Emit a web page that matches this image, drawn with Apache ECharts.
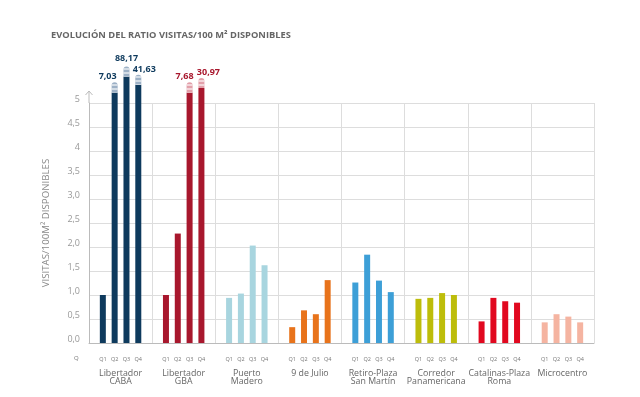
<!DOCTYPE html>
<html>
<head>
<meta charset="utf-8">
<script src="https://cdn.jsdelivr.net/npm/echarts@6/dist/echarts.min.js"></script>
<style>
  html, body { margin: 0; padding: 0; background: #fff; }
  #main { width: 640px; height: 397px; }
</style>
</head>
<body>
<div id="main"></div>
<script>
// zonas
var groups = ['Libertador\nCABA', 'Libertador\nGBA', 'Puerto\nMadero', '9 de Julio',
              'Retiro-Plaza\nSan Martín', 'Corredor\nPanamericana', 'Catalinas-Plaza\nRoma', 'Microcentro'];
var quarters = ['Q1', 'Q2', 'Q3', 'Q4'];
// visitas / 100 m2 por trimestre
var q1 = [1.00, 1.00, 0.94, 0.33, 1.26, 0.92, 0.45, 0.43];
var q2 = [7.03, 2.28, 1.03, 0.68, 1.84, 0.94, 0.94, 0.60];
var q3 = [88.17, 7.68, 2.03, 0.60, 1.30, 1.04, 0.87, 0.55];
var q4 = [41.63, 30.97, 1.62, 1.31, 1.06, 1.00, 0.84, 0.43];
// altura a la que se corta cada barra fuera de escala (null = no se corta)
var cutQ1 = [null, null, null, null, null, null, null, null];
var cutQ2 = [5.22, null, null, null, null, null, null, null];
var cutQ3 = [5.55, 5.22, null, null, null, null, null, null];
var cutQ4 = [5.38, 5.31, null, null, null, null, null, null];
var breakSize = 0.21;
var yTickLabels = ['0,0', '0,5', '1,0', '1,5', '2,0', '2,5', '3,0', '3,5', '4', '4,5', '5'];

var values = [q1, q2, q3, q4];
var cuts = [cutQ1, cutQ2, cutQ3, cutQ4];
var colors = ['#0e3a5d', '#a8172d', '#a8d5df', '#e8731b', '#3d9fd7', '#bdbd0b', '#e1081f', '#f5b4a1'];
var lightColors = ['#9db1c6', '#e2a0aa', '#ddd', '#ddd', '#ddd', '#ddd', '#ddd', '#ddd'];
// corrimiento de las etiquetas para que no se pisen
var labelShift = [[0, 0], [-7, 0], [0, -3], [6, 0]];
var labelShiftGba = [[0, 0], [0, 0], [-5, 0], [7, 0]];

var gridLeft = 89, gridTop = 103, gridRight = 46, gridBottom = 54;
var font = 'Open Sans';

function fmt(v) { return v.toFixed(2).replace('.', ','); }

var series = [];
quarters.forEach(function (q, qi) {
  series.push({
    name: q,
    type: 'bar',
    stack: 's' + qi,
    barWidth: 6,
    barGap: '97%',
    clip: false,
    data: values[qi].map(function (v, gi) {
      var c = cuts[qi][gi];
      return { value: c == null ? v : c, itemStyle: { color: colors[gi] } };
    })
  });
  series.push({
    name: q + ' corte',
    type: 'bar',
    stack: 's' + qi,
    barWidth: 6,
    barGap: '97%',
    clip: false,
    data: values[qi].map(function (v, gi) {
      if (cuts[qi][gi] == null) return '-';
      var off = gi === 0 ? labelShift[qi] : labelShiftGba[qi];
      return {
        value: breakSize,
        itemStyle: {
          color: lightColors[gi],
          borderRadius: [3, 3, 0, 0],
          decal: {
            symbol: 'rect',
            dashArrayX: [[1, 0]],
            dashArrayY: [1.2, 1.4],
            rotation: 0,
            color: 'rgba(255,255,255,0.55)'
          }
        },
        label: {
          show: true,
          position: 'top',
          distance: 1,
          offset: off,
          formatter: fmt(v),
          color: colors[gi],
          fontSize: 9,
          fontWeight: 'bold',
          fontFamily: font
        }
      };
    })
  });
});

var myChart = echarts.init(document.getElementById('main'));

option = {
  animation: false,
  title: {
    text: 'EVOLUCIÓN DEL RATIO VISITAS/100 M² DISPONIBLES',
    left: 46,
    top: 26,
    textStyle: { fontSize: 9.3, fontWeight: 'bold', color: '#666', fontFamily: font }
  },
  grid: { left: gridLeft, top: gridTop, right: gridRight, bottom: gridBottom },
  xAxis: {
    type: 'category',
    data: groups,
    axisTick: { show: false },
    axisLine: { lineStyle: { color: '#bbb' } },
    splitLine: { show: true, interval: 0, lineStyle: { color: '#ddd' } },
    axisLabel: {
      interval: 0,
      margin: 6,
      formatter: function (val) {
        var qs = quarters.map(function (q) { return '{q|' + q + '}'; }).join('');
        var names = val.split('\n').map(function (s) { return '{n|' + s + '}'; }).join('\n');
        return qs + '\n' + names;
      },
      rich: {
        q: { width: 11.8, align: 'center', fontSize: 5.5, lineHeight: 20, color: '#777', fontFamily: font },
        n: { fontSize: 8.8, lineHeight: 8.5, color: '#666', fontFamily: font, align: 'center' }
      }
    }
  },
  yAxis: {
    type: 'value',
    min: 0,
    max: 5,
    interval: 0.5,
    name: 'VISITAS/100M² DISPONIBLES',
    nameLocation: 'middle',
    nameGap: 38,
    nameTextStyle: { fontSize: 9.7, color: '#888', fontFamily: font },
    axisLine: { show: true, lineStyle: { color: '#bbb' } },
    axisTick: { show: false },
    splitLine: { lineStyle: { color: '#ddd' } },
    axisLabel: {
      margin: 9,
      color: '#999',
      fontSize: 9,
      fontFamily: font,
      verticalAlign: 'bottom',
      lineHeight: 8,
      formatter: function (v) { return yTickLabels[Math.round(v / 0.5)]; }
    }
  },
  graphic: [
    { type: 'line', shape: { x1: gridLeft, y1: gridTop, x2: gridLeft, y2: gridTop - 12 }, style: { stroke: '#bbb', lineWidth: 1 } },
    { type: 'polyline', shape: { points: [[gridLeft - 3.5, gridTop - 8], [gridLeft, gridTop - 12], [gridLeft + 3.5, gridTop - 8]] }, style: { stroke: '#bbb', fill: null, lineWidth: 1 } },
    { type: 'text', left: 74, top: 355, style: { text: 'Q', fontSize: 6, fill: '#777', fontFamily: font } }
  ],
  series: series
};

myChart.setOption(option);

window.onresize = function () {
  myChart.resize();
};
</script>
</body>
</html>
